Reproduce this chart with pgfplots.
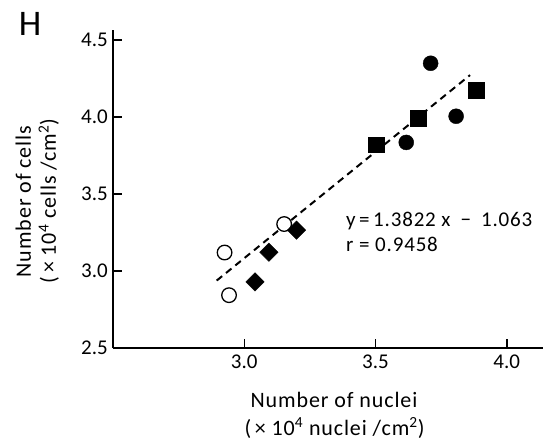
\documentclass[border=0pt]{standalone}
\usepackage{fontspec}
\setmainfont{Carlito}
\newfontfamily\lsfont{Carlito}[LetterSpace=4]
\usepackage{pgfplots}
\pgfplotsset{compat=1.18}
\begin{document}
\begin{tikzpicture}
\useasboundingbox (-113bp,-99bp) rectangle (432bp,348bp);
\begin{axis}[
  scale only axis, width=430bp, height=318bp,
  xmin=2.5, xmax=4.138, ymin=2.5, ymax=4.565,
  axis lines=left,
  axis line style={-, line width=2bp, black},
  xtick={3,3.5,4}, ytick={2.5,3,3.5,4,4.5},
  tick align=inside, major tick length=9bp,
  tick style={line width=1.5bp, black},
  /pgf/number format/assume math mode=true,
  xticklabel={\pgfmathprintnumber[fixed,fixed zerofill,precision=1]{\tick}},
  yticklabel={\pgfmathprintnumber[fixed,fixed zerofill,precision=1]{\tick}},
  xticklabel style={font=\fontsize{21bp}{24bp}\selectfont, inner sep=0pt, anchor=north, yshift=-7bp},
  yticklabel style={font=\fontsize{21bp}{24bp}\selectfont, inner sep=0pt, anchor=east, xshift=-5bp},
  clip=false,
]
\addplot[black, line width=2bp, dash pattern=on 7bp off 5bp] coordinates {(2.895,2.938) (3.860,4.272)};
\addplot[only marks, mark=*, mark size=7.3bp, mark options={fill=white, draw=black, line width=1.3bp}] coordinates {(2.925,3.120) (2.942,2.843) (3.152,3.305)};
\addplot[only marks, mark=square*, mark size=6.5bp, mark options={rotate=45, fill=black, draw=black}] coordinates {(3.041,2.929) (3.094,3.122) (3.199,3.265)};
\addplot[only marks, mark=square*, mark size=7.8bp, mark options={fill=black, draw=black}] coordinates {(3.503,3.821) (3.663,3.994) (3.884,4.176)};
\addplot[only marks, mark=*, mark size=7.5bp, mark options={fill=black, draw=black}] coordinates {(3.710,4.349) (3.617,3.835) (3.807,4.005)};
\end{axis}
\node[anchor=center, inner sep=0pt, font=\fontsize{36bp}{40bp}\selectfont] at (-83bp,324.5bp) {H};
\node[anchor=base, inner sep=0pt, font=\fontsize{22bp}{26bp}\lsfont] at (221bp,-59bp) {Number of nuclei};
\node[anchor=base, inner sep=0pt, font=\fontsize{22bp}{26bp}\lsfont] at (221.5bp,-87bp) {(\,× 10\textsuperscript{4} nuclei /cm\textsuperscript{2})};
\node[anchor=base, inner sep=0pt, rotate=90, font=\fontsize{22bp}{26bp}\lsfont] at (-82bp,146.5bp) {Number of cells};
\node[anchor=base, inner sep=0pt, rotate=90, font=\fontsize{22bp}{26bp}\lsfont] at (-57bp,147bp) {(\,× 10\textsuperscript{4} cells /cm\textsuperscript{2})};
\node[anchor=base west, inner sep=0pt, font=\fontsize{21bp}{25bp}\lsfont] at (233bp,121bp) {y\,=\,1.3822\ x\hspace{10bp}−\hspace{10bp}1.063};
\node[anchor=base west, inner sep=0pt, font=\fontsize{21bp}{25bp}\lsfont] at (233bp,96bp) {r = 0.9458};
\end{tikzpicture}
\end{document}
